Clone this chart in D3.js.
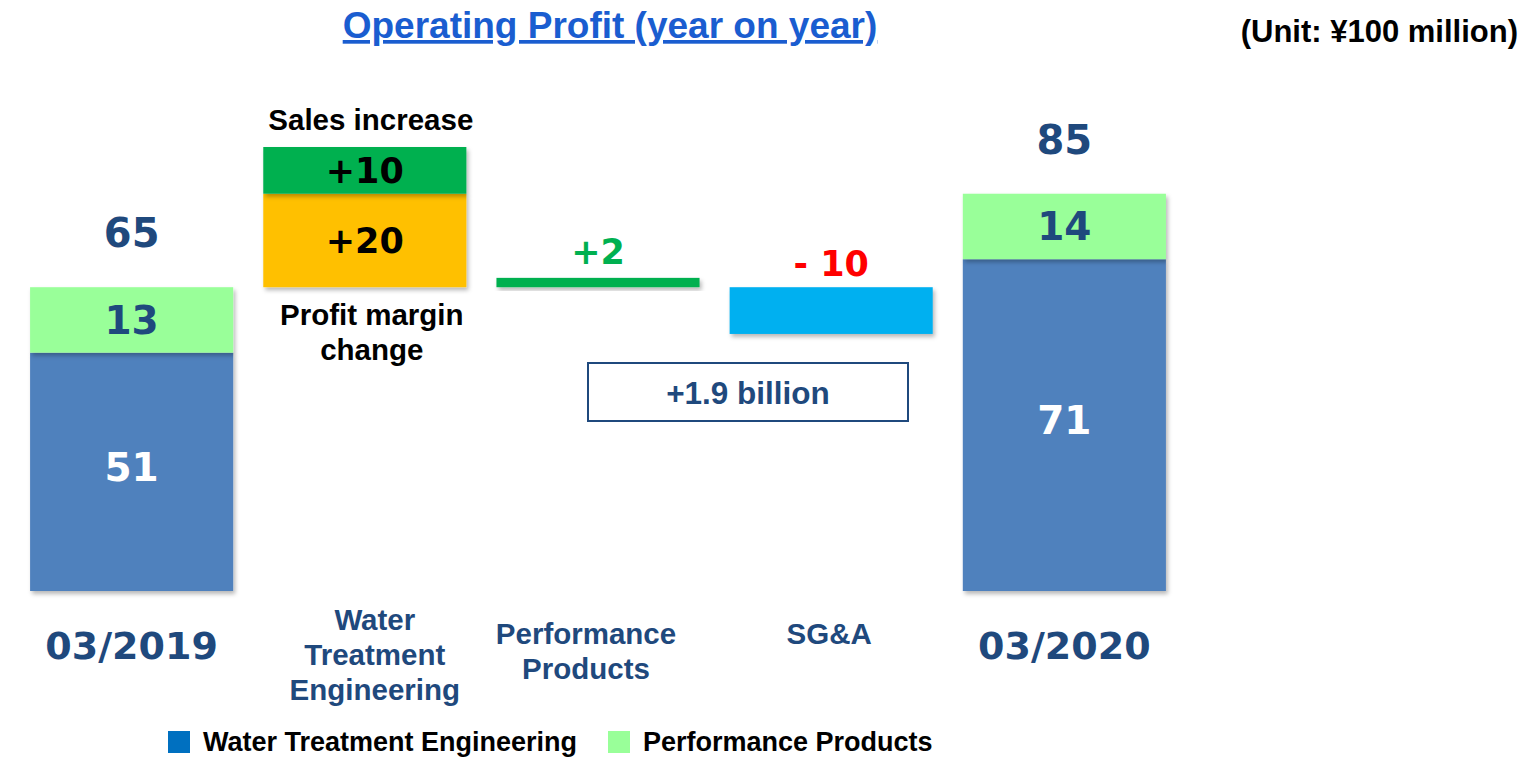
<!DOCTYPE html>
<html>
<head>
<meta charset="utf-8">
<script src="https://cdn.jsdelivr.net/npm/d3@7"></script>
<style>
  body { margin: 0; background: #fff; }
  svg { display: block; }
</style>
</head>
<body>
<script>
const w = 1538;
const h = 758;

// categories along the x axis
const categories = ["03/2019", "Water Treatment Engineering", "Performance Products", "SG&A", "03/2020"];
const categoryLines = [["03/2019"], ["Water", "Treatment", "Engineering"], ["Performance", "Products"], ["SG&A"], ["03/2020"]];

// stacked end bars (03/2019, 03/2020)
const endBars = ["03/2019", "03/2020"];
const wteValues = [51, 71];
const ppValues = [13, 14];
const totals = [65, 85];

// bridge steps: category, start value, change, fill, label colour
const stepCats = ["Water Treatment Engineering", "Water Treatment Engineering", "Performance Products", "SG&A"];
const stepStarts = [65, 85, 65, 65];
const stepDeltas = [20, 10, 2, -10];
const stepColors = ["#FFC000", "#00B050", "#00B050", "#00B0F0"];
const stepLabelColors = ["#000", "#000", "#00B050", "#FF0000"];
const stepLabelInside = [true, true, false, false];

const navy = "#1F497D";
const numFont = "'DejaVu Sans', Verdana, sans-serif";
const txtFont = "'Liberation Sans', Arial, sans-serif";

const svg = d3.select("body").append("svg").attr("width", w).attr("height", h);

const defs = svg.append("defs");
const shadow = defs.append("filter").attr("id", "shadow")
    .attr("x", "-10%").attr("y", "-10%").attr("width", "130%").attr("height", "140%");
shadow.append("feDropShadow")
    .attr("dx", 2).attr("dy", 3).attr("stdDeviation", 2)
    .attr("flood-color", "#000").attr("flood-opacity", 0.28);

////  Scales  ////
const x = d3.scaleBand()
    .domain(categories)
    .range([14, 1182])
    .paddingInner(0.129)
    .paddingOuter(0.069);
const cx = c => x(c) + x.bandwidth() / 2;

const yMax = d3.max(stepStarts.map((s, i) => s + Math.max(0, stepDeltas[i])).concat(totals));
const y = d3.scaleLinear()
    .domain([0, yMax])
    .range([591, 147]);

////  Title  ////
svg.append("text")
    .attr("x", 610).attr("y", 38)
    .attr("text-anchor", "middle")
    .attr("font-family", txtFont).attr("font-weight", "bold").attr("font-size", "37px")
    .attr("fill", "#1A5DD0")
    .attr("text-decoration", "underline")
    .text("Operating Profit (year on year)");

svg.append("text")
    .attr("x", 1518).attr("y", 42)
    .attr("text-anchor", "end")
    .attr("font-family", txtFont).attr("font-weight", "bold").attr("font-size", "31px")
    .attr("fill", "#000")
    .text("(Unit: ¥100 million)");

////  End bars  ////
const ends = endBars.map((c, i) => ({cat: c, wte: wteValues[i], pp: ppValues[i], total: totals[i]}));

const endG = svg.selectAll("g.end").data(ends).enter().append("g").attr("class", "end");
endG.append("rect")
    .attr("x", d => x(d.cat)).attr("width", x.bandwidth())
    .attr("y", d => y(d.wte)).attr("height", d => y(0) - y(d.wte))
    .attr("fill", "#4F81BD").attr("filter", "url(#shadow)");
endG.append("rect")
    .attr("x", d => x(d.cat)).attr("width", x.bandwidth())
    .attr("y", d => y(d.total)).attr("height", d => y(d.wte) - y(d.total))
    .attr("fill", "#99FF99").attr("filter", "url(#shadow)");
endG.append("text")
    .attr("x", d => cx(d.cat))
    .attr("y", d => (y(0) + y(d.wte)) / 2 + 9)
    .attr("text-anchor", "middle")
    .attr("font-family", numFont).attr("font-weight", "bold").attr("font-size", "39px")
    .attr("fill", "#fff")
    .text(d => d.wte);
endG.append("text")
    .attr("x", d => cx(d.cat))
    .attr("y", d => (y(d.wte) + y(d.total)) / 2 + 14)
    .attr("text-anchor", "middle")
    .attr("font-family", numFont).attr("font-weight", "bold").attr("font-size", "39px")
    .attr("fill", navy)
    .text(d => d.pp);
endG.append("text")
    .attr("x", d => cx(d.cat))
    .attr("y", d => y(d.total) - 40)
    .attr("text-anchor", "middle")
    .attr("font-family", numFont).attr("font-weight", "bold").attr("font-size", "40px")
    .attr("fill", navy)
    .text(d => d.total);

////  Bridge steps  ////
const steps = stepCats.map((c, i) => ({
    cat: c, start: stepStarts[i], end: stepStarts[i] + stepDeltas[i], delta: stepDeltas[i],
    color: stepColors[i], labelColor: stepLabelColors[i], inside: stepLabelInside[i]
}));

const stepG = svg.selectAll("g.step").data(steps).enter().append("g").attr("class", "step");
stepG.append("rect")
    .attr("x", d => x(d.cat)).attr("width", x.bandwidth())
    .attr("y", d => y(Math.max(d.start, d.end)))
    .attr("height", d => Math.abs(y(d.start) - y(d.end)))
    .attr("fill", d => d.color)
    .attr("filter", "url(#shadow)");
stepG.append("text")
    .attr("x", d => cx(d.cat))
    .attr("y", d => d.inside
        ? (y(d.start) + y(d.end)) / 2 + 13
        : y(Math.max(d.start, d.end)) - (d.delta > 0 ? 14 : 11))
    .attr("text-anchor", "middle")
    .attr("font-family", numFont).attr("font-weight", "bold").attr("font-size", "35px")
    .attr("fill", d => d.labelColor)
    .text(d => d.delta > 0 ? "+" + d.delta : "- " + Math.abs(d.delta));

// annotations around the water treatment steps
const wteCenter = cx("Water Treatment Engineering");
svg.append("text")
    .attr("x", wteCenter + 6).attr("y", y(stepStarts[1] + stepDeltas[1]) - 17)
    .attr("text-anchor", "middle")
    .attr("font-family", txtFont).attr("font-weight", "bold").attr("font-size", "29.5px")
    .attr("fill", "#000")
    .text("Sales increase");
svg.append("text")
    .attr("x", wteCenter + 7).attr("y", y(stepStarts[0]) + 38)
    .attr("text-anchor", "middle")
    .attr("font-family", txtFont).attr("font-weight", "bold").attr("font-size", "29.5px")
    .attr("fill", "#000")
    .selectAll("tspan").data(["Profit margin", "change"]).enter().append("tspan")
    .attr("x", wteCenter + 7).attr("dy", (d, i) => i === 0 ? 0 : 35)
    .text(d => d);

// +1.9 billion box
svg.append("rect")
    .attr("x", 588).attr("y", 363).attr("width", 320).attr("height", 58)
    .attr("fill", "#fff").attr("stroke", navy).attr("stroke-width", 2);
svg.append("text")
    .attr("x", 748).attr("y", 404)
    .attr("text-anchor", "middle")
    .attr("font-family", txtFont).attr("font-weight", "bold").attr("font-size", "31.5px")
    .attr("fill", navy)
    .text("+1.9 billion");

////  Axis  ////
svg.append("line")
    .attr("x1", 14).attr("x2", 1182)
    .attr("y1", y(0) + 1).attr("y2", y(0) + 1)
    .attr("stroke", "#3B5E8C").attr("stroke-width", 2)
    .attr("filter", "url(#shadow)");

// small horizontal nudges of the category labels, as on the slide
const labelNudge = [0, 10, -12, -2, 0];
const catG = svg.selectAll("g.cat").data(categories).enter().append("g").attr("class", "cat");
catG.each(function (c, i) {
    const lines = categoryLines[i];
    const isEnd = endBars.includes(c);
    const t = d3.select(this).append("text")
        .attr("text-anchor", "middle")
        .attr("font-family", isEnd ? numFont : txtFont)
        .attr("font-weight", "bold")
        .attr("font-size", isEnd ? "38px" : "29.5px")
        .attr("fill", navy)
        .attr("y", isEnd ? 659 : (lines.length === 3 ? 630 : 644));
    t.selectAll("tspan").data(lines).enter().append("tspan")
        .attr("x", cx(c) + labelNudge[i])
        .attr("dy", (d, j) => j === 0 ? 0 : 35)
        .text(d => d);
});

////  Legend  ////
const legendItems = ["Water Treatment Engineering", "Performance Products"];
const legendColors = ["#0070C0", "#99FF99"];
const legendX = [168, 608];
const lg = svg.selectAll("g.legend").data(legendItems).enter().append("g").attr("class", "legend")
    .attr("transform", (d, i) => `translate(${legendX[i]},731)`);
lg.append("rect").attr("width", 22).attr("height", 22).attr("fill", (d, i) => legendColors[i]);
lg.append("text")
    .attr("x", 35).attr("y", 20)
    .attr("font-family", txtFont).attr("font-weight", "bold").attr("font-size", "27px")
    .attr("fill", "#000")
    .text(d => d);
</script>
</body>
</html>
